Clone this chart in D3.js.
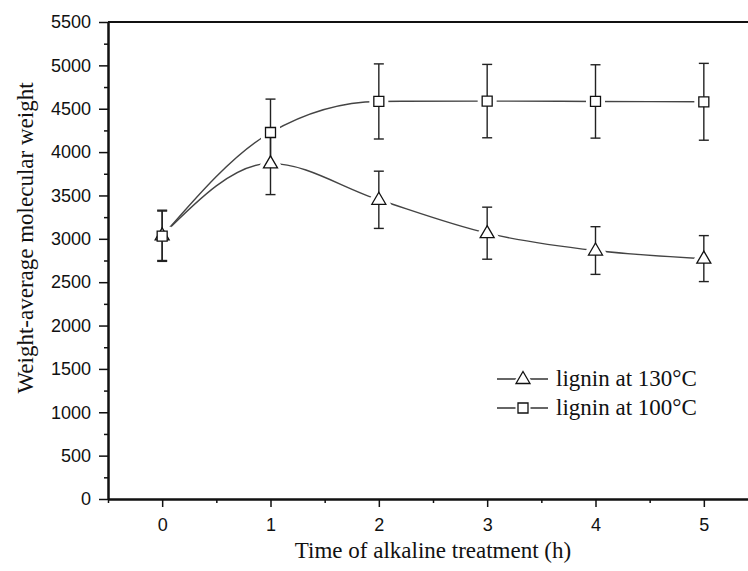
<!DOCTYPE html>
<html>
<head>
<meta charset="utf-8">
<script src="https://cdn.jsdelivr.net/npm/d3@7"></script>
<style>
  body { margin: 0; background: #fff; }
  svg { display: block; }
  .tick text { font-family: "Liberation Sans", Arial, sans-serif; font-size: 18px; fill: #111; }
  .ttl { font-family: "Liberation Serif", "Times New Roman", serif; font-size: 23px; fill: #111; }
</style>
</head>
<body>
<script>
// data
var times = [0, 1, 2, 3, 4, 5];
var lignin130 = [3040, 3870, 3450, 3065, 2865, 2772];
var err130 = [290, 360, 330, 300, 275, 265];
var lignin100 = [3030, 4226, 4584, 4588, 4584, 4580];
var err100 = [290, 385, 433, 423, 423, 443];
var yMajor = d3.range(0, 5501, 500);
var yMinor = d3.range(250, 5500, 500);
var xMajor = [0, 1, 2, 3, 4, 5];
var xMinor = [-0.5, 0.5, 1.5, 2.5, 3.5, 4.5, 5.5];

var W = 748, H = 571;
var padL = 108, padT = 22, padB = 499, padR = 758;

var svg = d3.select("body").append("svg")
  .attr("width", W).attr("height", H);

var x = d3.scaleLinear().domain([-0.5, 5.5]).range([padL, padR]);
var y = d3.scaleLinear().domain([0, 5500]).range([padB, padT]);

//==== axes ====
svg.append("g").attr("transform", "translate(" + padL + ",0)")
  .call(d3.axisLeft(y).tickValues(yMinor).tickSize(4).tickFormat("").tickSizeOuter(0));
svg.append("g").attr("transform", "translate(" + padL + ",0)")
  .call(d3.axisLeft(y).tickValues(yMajor).tickFormat(d3.format("d")).tickSize(9).tickPadding(8).tickSizeOuter(0));
svg.append("g").attr("transform", "translate(0," + padB + ")")
  .call(d3.axisBottom(x).tickValues(xMinor).tickSize(4).tickFormat("").tickSizeOuter(0));
svg.append("g").attr("transform", "translate(0," + padB + ")")
  .call(d3.axisBottom(x).tickValues(xMajor).tickFormat(d3.format("d")).tickSize(8).tickPadding(11).tickSizeOuter(0));

svg.selectAll(".domain").attr("stroke", "#111").attr("stroke-width", 2);
svg.selectAll(".tick line").attr("stroke", "#111").attr("stroke-width", 1.5);

// top border
svg.append("line")
  .attr("x1", padL).attr("x2", padR).attr("y1", padT).attr("y2", padT)
  .attr("stroke", "#111").attr("stroke-width", 2);

// titles
svg.append("text").attr("class", "ttl")
  .attr("x", x(2.5)).attr("y", 558).attr("text-anchor", "middle")
  .text("Time of alkaline treatment (h)");
svg.append("text").attr("class", "ttl")
  .attr("transform", "translate(33," + 238 + ") rotate(-90)")
  .attr("text-anchor", "middle")
  .text("Weight-average molecular weight");

//==== series ====
var triPath = "M0,-7.5L7,4.5L-7,4.5Z";
var sqPath = "M-5,-5H5V5H-5Z";

var series = [
  {vals: lignin130, errs: err130, shape: triPath, label: "lignin at 130\u00B0C"},
  {vals: lignin100, errs: err100, shape: sqPath, label: "lignin at 100\u00B0C"}
];

var line = d3.line()
  .x(function(d) { return x(d[0]); })
  .y(function(d) { return y(d[1]); })
  .curve(d3.curveMonotoneX);

series.forEach(function(s) {
  var pts = times.map(function(t, i) { return [t, s.vals[i]]; });
  svg.append("path").attr("d", line(pts))
    .attr("fill", "none").attr("stroke", "#444").attr("stroke-width", 1.4);
});

// white halo so the lines stop short of the markers
series.forEach(function(s) {
  svg.selectAll(null).data(times).enter().append("path")
    .attr("d", s.shape)
    .attr("transform", function(t, i) { return "translate(" + x(t) + "," + y(s.vals[i]) + ")"; })
    .attr("fill", "#fff").attr("stroke", "#fff").attr("stroke-width", 9);
});

series.forEach(function(s) {
  var g = svg.append("g").attr("stroke", "#222").attr("stroke-width", 1.4);
  times.forEach(function(t, i) {
    var cx = x(t), hi = y(s.vals[i] + s.errs[i]), lo = y(s.vals[i] - s.errs[i]);
    g.append("line").attr("x1", cx).attr("x2", cx).attr("y1", hi).attr("y2", lo);
    g.append("line").attr("x1", cx - 5).attr("x2", cx + 5).attr("y1", hi).attr("y2", hi);
    g.append("line").attr("x1", cx - 5).attr("x2", cx + 5).attr("y1", lo).attr("y2", lo);
  });
});

series.forEach(function(s) {
  svg.selectAll(null).data(times).enter().append("path")
    .attr("d", s.shape)
    .attr("transform", function(t, i) { return "translate(" + x(t) + "," + y(s.vals[i]) + ")"; })
    .attr("fill", "#fff").attr("stroke", "#111").attr("stroke-width", 1.3);
});

//==== legend ====
var leg = svg.append("g");
series.forEach(function(s, i) {
  var ly = 379 + i * 29;
  leg.append("line").attr("x1", 497).attr("x2", 548).attr("y1", ly).attr("y2", ly)
    .attr("stroke", "#333").attr("stroke-width", 1.3);
  leg.append("path").attr("d", s.shape)
    .attr("transform", "translate(523," + ly + ")")
    .attr("fill", "#fff").attr("stroke", "#fff").attr("stroke-width", 5);
  leg.append("path").attr("d", s.shape)
    .attr("transform", "translate(523," + ly + ")")
    .attr("fill", "#fff").attr("stroke", "#111").attr("stroke-width", 1.3);
  leg.append("text").attr("class", "ttl")
    .attr("x", 556).attr("y", ly + 7)
    .text(s.label);
});
</script>
</body>
</html>
